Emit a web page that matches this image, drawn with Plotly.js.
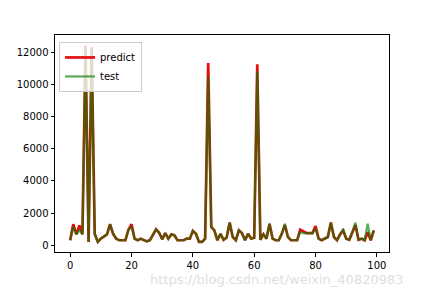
<!DOCTYPE html>
<html>
<head>
<meta charset="utf-8">
<script src="https://cdn.plot.ly/plotly-3.0.1.min.js"></script>
<style>html,body{margin:0;padding:0;background:#fff;}#chart{width:432px;height:288px;}</style>
</head>
<body>
<div id="chart"></div>
<script>
const xIndex = Array.from({length: 100}, (_, i) => i);
const predictValues = [
  300, 1300, 670, 1230, 670, 12450, 200, 12350, 700, 200,
  400, 550, 670, 1300, 700, 400, 300, 300, 300, 960,
  1300, 400, 300, 400, 300, 230, 300, 600, 980, 770,
  360, 750, 400, 670, 600, 300, 300, 300, 400, 400,
  880, 700, 200, 200, 400, 11350, 1130, 920, 300, 700,
  330, 460, 1400, 500, 300, 920, 750, 300, 700, 400,
  460, 11270, 330, 670, 400, 1330, 400, 300, 300, 700,
  1250, 500, 300, 300, 300, 960, 850, 750, 750, 750,
  1190, 400, 300, 400, 500, 1400, 500, 300, 670, 900,
  400, 330, 810, 1250, 330, 400, 300, 800, 300, 920
];
const testValues = [
  300, 1150, 670, 920, 670, 12300, 200, 12200, 700, 200,
  400, 550, 670, 1300, 700, 400, 300, 300, 300, 960,
  1130, 400, 300, 400, 300, 230, 300, 600, 980, 770,
  360, 750, 400, 670, 600, 300, 300, 300, 400, 400,
  880, 700, 200, 200, 400, 10520, 1130, 920, 300, 700,
  330, 460, 1400, 500, 300, 920, 750, 300, 700, 400,
  460, 10830, 330, 670, 400, 1330, 400, 300, 300, 700,
  1330, 500, 300, 300, 300, 810, 750, 750, 750, 750,
  1020, 400, 300, 400, 500, 1400, 500, 300, 670, 1020,
  400, 330, 810, 1400, 330, 400, 300, 1330, 300, 920
];
const xTicks = [0, 20, 40, 60, 80, 100];
const yTicks = [0, 2000, 4000, 6000, 8000, 10000, 12000];

const font = {family: 'DejaVu Sans', size: 10, color: '#000'};
const traces = [
  {x: xIndex, y: predictValues, type: 'scatter', mode: 'lines', name: 'predict',
   line: {color: 'rgba(230,0,0,0.95)', width: 2.7}},
  {x: xIndex, y: testValues, type: 'scatter', mode: 'lines', name: 'test',
   line: {color: 'rgba(0,128,0,0.65)', width: 2.2}}
];
const axisCommon = {
  showgrid: false, zeroline: false, showline: true, mirror: true,
  linecolor: '#000', linewidth: 1, ticks: 'outside', ticklen: 3.5, tickwidth: 1,
  tickcolor: '#000', tickfont: font
};
const layout = {
  width: 432, height: 288,
  margin: {l: 55, r: 43, t: 35, b: 36},
  paper_bgcolor: '#fff', plot_bgcolor: '#fff',
  font: font,
  showlegend: true,
  legend: {x: 0.012, y: 0.968, xanchor: 'left', yanchor: 'top',
           bgcolor: 'rgba(255,255,255,0.8)', bordercolor: '#cccccc', borderwidth: 1,
           font: font, itemwidth: 30, tracegroupgap: 0},
  xaxis: Object.assign({}, axisCommon, {range: [-4.95, 103.95], tickvals: xTicks, ticktext: xTicks.map(String)}),
  yaxis: Object.assign({}, axisCommon, {range: [-432, 13100], tickvals: yTicks, ticktext: yTicks.map(String)}),
  annotations: [{
    text: 'https://blog.csdn.net/weixin_40820983', xref: 'paper', yref: 'paper',
    x: 0.28, y: -0.125, xanchor: 'left', yanchor: 'middle', showarrow: false, borderpad: 0,
    font: {family: 'DejaVu Sans', size: 13, color: 'rgba(200,200,200,0.6)'}
  }]
};
Plotly.newPlot('chart', traces, layout, {staticPlot: true, displayModeBar: false});
</script>
</body>
</html>
